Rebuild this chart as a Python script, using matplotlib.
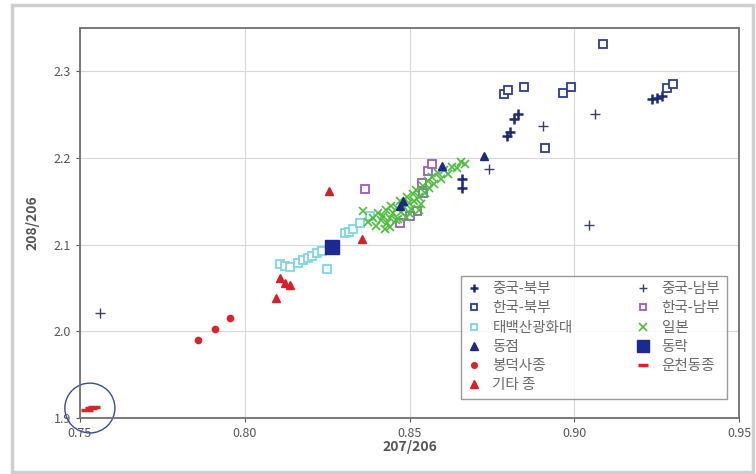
import matplotlib
matplotlib.use('Agg')
import matplotlib.pyplot as plt
from matplotlib.patches import Ellipse, Rectangle

plt.rcParams['font.family'] = ['Noto Sans CJK KR', 'DejaVu Sans']

# ── data (207/206, 208/206) ──────────────────────────────────────────────────
cn_north_x = [0.8829, 0.8817, 0.8805, 0.8795, 0.8659, 0.8659, 0.9235, 0.9250, 0.9266]
cn_north_y = [2.2506, 2.2448, 2.2299, 2.2253, 2.1759, 2.1655, 2.2678, 2.2690, 2.2713]

cn_south_x = [0.7561, 0.8741, 0.8905, 0.9063, 0.9045]
cn_south_y = [2.0210, 2.1870, 2.2370, 2.2510, 2.1230]

kr_north_x = [0.9087, 0.8786, 0.8799, 0.8847, 0.8965, 0.8990, 0.8911, 0.9281, 0.9299]
kr_north_y = [2.3310, 2.2736, 2.2782, 2.2816, 2.2747, 2.2816, 2.2115, 2.2805, 2.2850]

kr_south_x = [0.8365, 0.8522, 0.8501, 0.8541, 0.8538, 0.8556, 0.8568, 0.8471]
kr_south_y = [2.1644, 2.1391, 2.1333, 2.1598, 2.1713, 2.1851, 2.1931, 2.1250]

taebaek_x = [0.8107, 0.8122, 0.8137, 0.8161, 0.8177, 0.8192, 0.8204, 0.8219,
             0.8234, 0.8249, 0.8304, 0.8316, 0.8328, 0.8350, 0.8380]
taebaek_y = [2.078, 2.075, 2.074, 2.079, 2.082, 2.085, 2.087, 2.090,
             2.093, 2.072, 2.113, 2.115, 2.118, 2.125, 2.133]

japan_x = [0.8359, 0.8375, 0.8390, 0.8398, 0.8405, 0.8412, 0.8420, 0.8428, 0.8432,
           0.8440, 0.8445, 0.8450, 0.8458, 0.8462, 0.8470, 0.8475, 0.8480, 0.8488,
           0.8492, 0.8498, 0.8505, 0.8510, 0.8515, 0.8520, 0.8528, 0.8535, 0.8540,
           0.8548, 0.8555, 0.8560, 0.8568, 0.8575, 0.8585, 0.8595, 0.8605, 0.8618,
           0.8630, 0.8645, 0.8655, 0.8668, 0.8440, 0.8425, 0.8465, 0.8500, 0.8530]
japan_y = [2.139, 2.126, 2.131, 2.122, 2.136, 2.128, 2.133, 2.140, 2.125,
           2.131, 2.145, 2.136, 2.128, 2.142, 2.150, 2.138, 2.145, 2.132,
           2.155, 2.148, 2.141, 2.158, 2.150, 2.163, 2.155, 2.147, 2.168,
           2.160, 2.173, 2.165, 2.178, 2.170, 2.183, 2.176, 2.186, 2.181,
           2.190, 2.188, 2.195, 2.193, 2.120, 2.118, 2.130, 2.135, 2.140]

dongjeom_x = [0.8480, 0.8598, 0.8726, 0.8471]
dongjeom_y = [2.1506, 2.1908, 2.2023, 2.1448]

dongrak_x = [0.8265]
dongrak_y = [2.097]

bongdeok_x = [0.7858, 0.7910, 0.7955]
bongdeok_y = [1.990, 2.003, 2.015]

uncheon_x = [0.7521, 0.7533, 0.7542]
uncheon_y = [1.909, 1.9115, 1.9126]

other_x = [0.8255, 0.8356, 0.8107, 0.8122, 0.8137, 0.8095]
other_y = [2.162, 2.107, 2.061, 2.056, 2.053, 2.039]

x_ticks = [0.75, 0.80, 0.85, 0.90, 0.95]
y_ticks = [1.9, 2.0, 2.1, 2.2, 2.3]

# ── figure ───────────────────────────────────────────────────────────────────
fig = plt.figure(figsize=(7.56, 4.74), dpi=100)
fig.patch.set_facecolor('white')
fig.patches.append(Rectangle((12 / 756, 2 / 474), 741 / 756, 467 / 474,
                             transform=fig.transFigure, fill=False,
                             edgecolor='#cfcfcf', linewidth=2.5))
ax = fig.add_axes([80 / 756, 1 - 418 / 474, 659 / 756, 390 / 474])

h = {}
h['cn_n'], = ax.plot(cn_north_x, cn_north_y, '+', color='#1c2a78', ms=7, mew=1.8,
                     ls='none', label='중국-북부')
h['cn_s'], = ax.plot(cn_south_x, cn_south_y, '+', color='#3a3f66', ms=7, mew=1.0,
                     ls='none', label='중국-남부')
h['kr_n'], = ax.plot(kr_north_x, kr_north_y, 's', mfc='white', mec='#2a3c98', ms=5.5,
                     mew=1.3, ls='none', label='한국-북부')
h['kr_s'], = ax.plot(kr_south_x, kr_south_y, 's', mfc='white', mec='#9a5cc0', ms=5.5,
                     mew=1.3, ls='none', label='한국-남부')
h['tb'], = ax.plot(taebaek_x, taebaek_y, 's', mfc='white', mec='#7fd6e4', ms=5.5,
                   mew=1.3, ls='none', label='태백산광화대')
h['jp'], = ax.plot(japan_x, japan_y, 'x', color='#4cbf3a', ms=6, mew=1.2,
                   ls='none', label='일본')
h['dj'], = ax.plot(dongjeom_x, dongjeom_y, '^', color='#1a2a80', ms=6,
                   ls='none', label='동점')
h['dr'], = ax.plot(dongrak_x, dongrak_y, 's', color='#1a2a90', ms=10,
                   ls='none', label='동락')
h['bd'], = ax.plot(bongdeok_x, bongdeok_y, 'o', color='#e0202a', ms=4.5,
                   ls='none', label='봉덕사종')
h['uc'], = ax.plot(uncheon_x, uncheon_y, '_', color='#e0202a', ms=8, mew=2.5,
                   ls='none', label='운천동종')
h['ot'], = ax.plot(other_x, other_y, '^', color='#d81e2a', ms=6,
                   ls='none', label='기타 종')

ax.add_patch(Ellipse((0.753, 1.9115), 0.0152, 0.0575, fill=False,
                     edgecolor='#3a4aa0', linewidth=1.0, clip_on=False))

# ── axes ─────────────────────────────────────────────────────────────────────
ax.set_xlim(0.75, 0.95)
ax.set_ylim(1.9, 2.35)
ax.set_xticks(x_ticks)
ax.set_xticklabels([f"{v:.2f}" for v in x_ticks])
ax.set_yticks(y_ticks)
ax.set_yticklabels([f"{v:.1f}" for v in y_ticks])
ax.tick_params(labelsize=9, colors='#555555', length=3)
ax.set_xlabel('207/206', fontsize=10, fontweight='bold', color='#555555', labelpad=0)
ax.set_ylabel('208/206', fontsize=10, fontweight='bold', color='#555555', labelpad=10)

ax.grid(True, color='#d8d8d8', linewidth=0.8)
ax.set_axisbelow(True)
for s in ax.spines.values():
    s.set_color('#707070')
    s.set_linewidth(1.3)

# legend is filled column by column -> order so rows read like the original
order = ['cn_n', 'kr_n', 'tb', 'dj', 'bd', 'ot', 'cn_s', 'kr_s', 'jp', 'dr', 'uc']
leg = ax.legend(handles=[h[k] for k in order], loc='lower right', ncol=2,
                fontsize=10.5, frameon=True, fancybox=False, edgecolor='#808080',
                handletextpad=0.8, columnspacing=4.4, labelspacing=0.36,
                borderpad=0.45, handlelength=0.9, markerscale=0.9,
                bbox_to_anchor=(0.9925, 0.03))
for t in leg.get_texts():
    t.set_color('#6a6a6a')

fig.savefig('out.png', dpi=100, facecolor='white')
